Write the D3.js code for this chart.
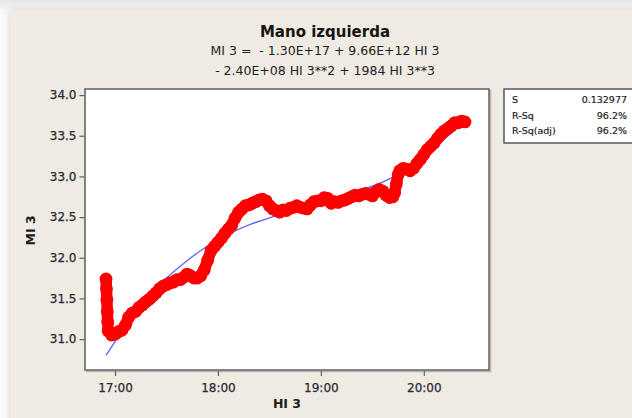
<!DOCTYPE html>
<html>
<head>
<meta charset="utf-8">
<script src="https://cdn.jsdelivr.net/npm/d3@7"></script>
<style>
  html, body { margin: 0; padding: 0; background: #fafafa; }
  svg { display: block; }
  text { font-family: "DejaVu Sans", Verdana, sans-serif; }
</style>
</head>
<body>
<svg id="chart" width="632" height="418"></svg>
<script>
// ---- chart text ----
const chartTitle = "Mano izquierda";
const equationLines = [
  "MI 3 =  - 1.30E+17 + 9.66E+12 HI 3",
  "- 2.40E+08 HI 3**2 + 1984 HI 3**3"
];
const xLabel = "HI 3";
const yLabel = "MI 3";
const statNames = ["S", "R-Sq", "R-Sq(adj)"];
const statValues = ["0.132977", "96.2%", "96.2%"];

// ---- axis ticks ----
const xTickLabels = ["17:00", "18:00", "19:00", "20:00"];
const yTickValues = [31.0, 31.5, 32.0, 32.5, 33.0, 33.5, 34.0];
const xDomainTimes = ["16:42:30", "20:38:00"];
const yDomain = [30.62, 34.075];

// ---- observed series: HI 3 (time) vs MI 3 ----
const hiTimes = [
  "16:54:45","16:55:00","16:55:15","16:55:30","16:55:45","16:56:00","16:58:00",
  "17:00:00","17:02:00","17:04:00","17:06:00","17:08:00","17:10:00","17:12:00","17:14:00",
  "17:16:00","17:18:00","17:20:00","17:22:00","17:24:00","17:26:00","17:28:00","17:30:00",
  "17:32:00","17:34:00","17:36:00","17:38:00","17:40:00","17:42:00","17:44:00","17:46:00",
  "17:48:00","17:50:00","17:52:00","17:54:00","17:56:00","17:58:00",
  "18:00:00","18:02:00","18:04:00","18:06:00","18:08:00","18:10:00","18:12:00","18:14:00",
  "18:16:00","18:18:00","18:20:00","18:22:00","18:24:00","18:26:00","18:28:00","18:30:00",
  "18:32:00","18:34:00","18:36:00","18:38:00","18:40:00","18:42:00","18:44:00","18:46:00",
  "18:48:00","18:50:00","18:52:00","18:54:00","18:56:00","18:58:00",
  "19:00:00","19:02:00","19:04:00","19:06:00","19:08:00","19:10:00","19:12:00","19:14:00",
  "19:16:00","19:18:00","19:20:00","19:22:00","19:24:00","19:26:00","19:28:00","19:30:00",
  "19:32:00","19:34:00","19:36:00","19:38:00","19:40:00","19:42:00","19:43:00","19:44:00",
  "19:45:00","19:46:00","19:48:00","19:50:00","19:52:00","19:54:00","19:56:00","19:58:00",
  "20:00:00","20:02:00","20:04:00","20:06:00","20:08:00","20:10:00","20:12:00","20:14:00",
  "20:16:00","20:18:00","20:20:00","20:22:00","20:24:00"
];
const miValues = [
  31.74, 31.62, 31.48, 31.34, 31.21, 31.10, 31.05,
  31.06, 31.09, 31.11, 31.17, 31.27, 31.32, 31.34, 31.39,
  31.42, 31.46, 31.49, 31.53, 31.57, 31.62, 31.65, 31.67,
  31.69, 31.70, 31.73, 31.73, 31.76, 31.80, 31.78, 31.75,
  31.75, 31.78, 31.85, 31.97, 32.09, 32.14,
  32.19, 32.24, 32.30, 32.35, 32.40, 32.49, 32.56, 32.60,
  32.64, 32.65, 32.67, 32.69, 32.71, 32.72, 32.70, 32.64,
  32.60, 32.58, 32.56, 32.59, 32.58, 32.61, 32.62, 32.64,
  32.62, 32.61, 32.60, 32.65, 32.69, 32.70,
  32.70, 32.74, 32.73, 32.67, 32.69, 32.68, 32.70, 32.71,
  32.73, 32.75, 32.77, 32.76, 32.78, 32.79, 32.78, 32.76,
  32.81, 32.84, 32.82, 32.77, 32.74, 32.75, 32.80, 32.91,
  33.02, 33.07, 33.10, 33.09, 33.07, 33.10, 33.16, 33.21,
  33.27, 33.33, 33.37, 33.41, 33.47, 33.52, 33.56, 33.59,
  33.62, 33.66, 33.66, 33.68, 33.67
];

// ---- cubic regression curve, evaluated along HI 3 ----
const fitTimes = [
  "16:54:48","17:00:00","17:10:00","17:20:00","17:30:00","17:40:00","17:50:00",
  "18:00:00","18:10:00","18:20:00","18:30:00","18:40:00","18:50:00",
  "19:00:00","19:10:00","19:20:00","19:30:00","19:40:00","19:50:00",
  "20:00:00","20:10:00","20:20:00","20:24:00"
];
const fitValues = [
  30.80, 30.97, 31.27, 31.53, 31.75, 31.93, 32.09,
  32.22, 32.33, 32.42, 32.49, 32.56, 32.62,
  32.68, 32.74, 32.81, 32.88, 32.97, 33.09,
  33.24, 33.42, 33.61, 33.69
];

// ---- drawing ----
const W = 632, H = 418;
const plot = { left: 85, top: 89, right: 489, bottom: 370 };
const parseTime = d3.timeParse("%H:%M:%S");
const parseTick = d3.timeParse("%H:%M");

const svg = d3.select("#chart");
const defs = svg.append("defs");

// window background with a soft top band and shadowed panel
const topBand = defs.append("linearGradient").attr("id", "topBand")
  .attr("x1", 0).attr("y1", 0).attr("x2", 0).attr("y2", 1);
topBand.append("stop").attr("offset", "0%").attr("stop-color", "#e4e4e4");
topBand.append("stop").attr("offset", "100%").attr("stop-color", "#f7f7f7");
const shadow = defs.append("filter").attr("id", "panelShadow")
  .attr("x", "-5%").attr("y", "-5%").attr("width", "110%").attr("height", "110%");
shadow.append("feDropShadow").attr("dx", 0).attr("dy", 0)
  .attr("stdDeviation", 3).attr("flood-color", "#9a9a9a").attr("flood-opacity", 0.45);

svg.append("rect").attr("x", 0).attr("y", 0).attr("width", W).attr("height", 10)
  .attr("fill", "url(#topBand)");
svg.append("rect").attr("x", 10).attr("y", 10).attr("width", W + 20).attr("height", H + 20)
  .attr("fill", "#efebe2").attr("filter", "url(#panelShadow)");

const x = d3.scaleTime()
  .domain(xDomainTimes.map(parseTime))
  .range([plot.left, plot.right]);
const y = d3.scaleLinear()
  .domain(yDomain)
  .range([plot.bottom, plot.top]);

// plot area
svg.append("rect")
  .attr("x", plot.left).attr("y", plot.top)
  .attr("width", plot.right - plot.left).attr("height", plot.bottom - plot.top)
  .attr("fill", "#ffffff");

defs.append("clipPath").attr("id", "plotClip").append("rect")
  .attr("x", plot.left).attr("y", plot.top)
  .attr("width", plot.right - plot.left).attr("height", plot.bottom - plot.top);

const marks = svg.append("g").attr("clip-path", "url(#plotClip)");

// fitted cubic line
const fitData = fitTimes.map((t, i) => ({ t: parseTime(t), v: fitValues[i] }));
marks.append("path")
  .datum(fitData)
  .attr("fill", "none")
  .attr("stroke", "#6262f7")
  .attr("stroke-width", 1.3)
  .attr("d", d3.line().x(d => x(d.t)).y(d => y(d.v)).curve(d3.curveNatural));

// observed points, drawn as heavy red symbols joined together
const obsData = hiTimes.map((t, i) => ({ t: parseTime(t), v: miValues[i] }));
marks.append("path")
  .datum(obsData)
  .attr("fill", "none")
  .attr("stroke", "#ff0000")
  .attr("stroke-width", 11.5)
  .attr("stroke-linejoin", "round")
  .attr("stroke-linecap", "round")
  .attr("d", d3.line().x(d => x(d.t)).y(d => y(d.v)));
marks.selectAll("circle.obs")
  .data(obsData)
  .join("circle")
  .attr("class", "obs")
  .attr("cx", d => x(d.t))
  .attr("cy", d => y(d.v))
  .attr("r", 6.4)
  .attr("fill", "#ff0000");

// frame with a light offset shadow
svg.append("path")
  .attr("d", `M${plot.right + 1.5},${plot.top + 1} V${plot.bottom + 1.5} H${plot.left + 1}`)
  .attr("fill", "none").attr("stroke", "#b5b5b5").attr("stroke-width", 1.5);
svg.append("rect")
  .attr("x", plot.left).attr("y", plot.top)
  .attr("width", plot.right - plot.left).attr("height", plot.bottom - plot.top)
  .attr("fill", "none").attr("stroke", "#5f5f5f").attr("stroke-width", 1.5);

// axes
const labelColor = "#2a2a36";
const xAxis = d3.axisBottom(x)
  .tickValues(xTickLabels.map(parseTick))
  .tickFormat(d3.timeFormat("%H:%M"))
  .tickSize(5).tickPadding(7);
const gx = svg.append("g").attr("transform", `translate(0,${plot.bottom + 1})`).call(xAxis);
const yAxis = d3.axisLeft(y)
  .tickValues(yTickValues)
  .tickFormat(d3.format(".1f"))
  .tickSize(5).tickPadding(3);
const gy = svg.append("g").attr("transform", `translate(${plot.left - 0.5},0)`).call(yAxis);
[gx, gy].forEach(g => {
  g.select(".domain").remove();
  g.selectAll(".tick line").attr("stroke", "#606060").attr("stroke-width", 1.2);
  g.selectAll(".tick text")
    .attr("fill", labelColor)
    .attr("stroke", labelColor)
    .attr("stroke-width", 0.25)
    .style("font-size", "12px")
    .style("font-family", "'DejaVu Sans', Verdana, sans-serif");
});

// axis titles
svg.append("text")
  .attr("x", (plot.left + plot.right) / 2).attr("y", 408)
  .attr("text-anchor", "middle")
  .style("font-size", "12.5px").style("font-weight", "bold")
  .attr("fill", "#1c1c1c")
  .text(xLabel);
svg.append("text")
  .attr("transform", `translate(35,${(plot.top + plot.bottom) / 2 + 1}) rotate(-90)`)
  .attr("text-anchor", "middle")
  .style("font-size", "12.5px").style("font-weight", "bold")
  .attr("fill", "#1c1c1c")
  .text(yLabel);

// title and regression equation
const titleX = 325;
svg.append("text")
  .attr("x", titleX).attr("y", 37)
  .attr("text-anchor", "middle")
  .style("font-size", "15px").style("font-weight", "bold")
  .attr("fill", "#141414")
  .text(chartTitle);
svg.selectAll("text.eq")
  .data(equationLines)
  .join("text")
  .attr("class", "eq")
  .attr("x", titleX)
  .attr("y", (d, i) => 55 + i * 20)
  .attr("text-anchor", "middle")
  .style("font-size", "12.5px")
  .style("white-space", "pre")
  .attr("fill", "#222222")
  .text(d => d);

// summary statistics box
const box = { x: 504, y: 89, w: 150, h: 54 };
svg.append("rect")
  .attr("x", box.x).attr("y", box.y).attr("width", box.w).attr("height", box.h)
  .attr("fill", "#ffffff").attr("stroke", "#5a5a5a").attr("stroke-width", 1.5);
const rowY = i => 103 + i * 15.5;
svg.selectAll("text.statName")
  .data(statNames)
  .join("text")
  .attr("class", "statName")
  .attr("x", 512).attr("y", (d, i) => rowY(i))
  .style("font-size", "9.5px")
  .attr("fill", "#1e1e1e")
  .attr("stroke", "#1e1e1e").attr("stroke-width", 0.2)
  .text(d => d);
svg.selectAll("text.statValue")
  .data(statValues)
  .join("text")
  .attr("class", "statValue")
  .attr("x", 627).attr("y", (d, i) => rowY(i))
  .attr("text-anchor", "end")
  .style("font-size", "9.5px")
  .attr("fill", "#1e1e1e")
  .attr("stroke", "#1e1e1e").attr("stroke-width", 0.2)
  .text(d => d);
</script>
</body>
</html>
